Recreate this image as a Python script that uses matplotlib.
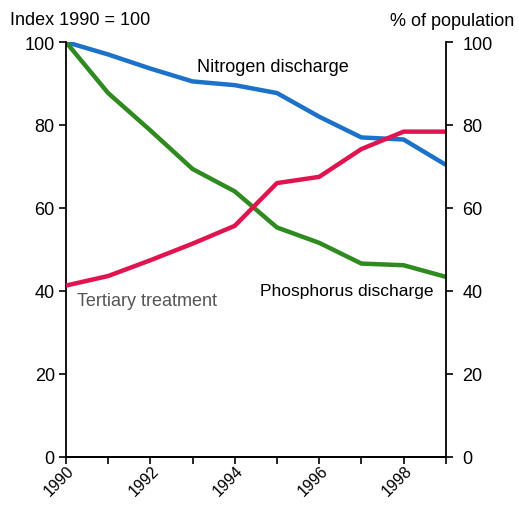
import matplotlib
matplotlib.use("Agg")
import matplotlib.pyplot as plt
from matplotlib.transforms import ScaledTranslation

plt.rcParams['font.family'] = ['Liberation Sans', 'DejaVu Sans']

years = [1990, 1991, 1992, 1993, 1994, 1995, 1996, 1997, 1998, 1999]
nitrogen = [100, 97, 93.6, 90.5, 89.6, 87.7, 82, 77, 76.5, 70.4]
phosphorus = [100, 87.7, 78.7, 69.4, 64, 55.3, 51.6, 46.6, 46.2, 43.4]
tertiary = [41.3, 43.6, 47.4, 51.4, 55.7, 66, 67.5, 74.2, 78.4, 78.4]

BLUE = "#1b72c8"
GREEN = "#2f8a1f"
RED = "#e0144f"
FS = 13

fig = plt.figure(figsize=(5.19, 5.06), dpi=100)
ax = fig.add_axes([0.127, 0.095, 0.732, 0.820])
ax2 = ax.twinx()

ax.plot(years, nitrogen, color=BLUE, lw=3.2, solid_capstyle="butt")
ax.plot(years, phosphorus, color=GREEN, lw=3.2, solid_capstyle="butt")
ax2.plot(years, tertiary, color=RED, lw=3.2, solid_capstyle="butt")

for a in (ax, ax2):
    a.set_xlim(1990, 1999)
    a.set_ylim(0, 100)
    a.set_yticks([0, 20, 40, 60, 80, 100])
    a.spines["top"].set_visible(False)
    for s in a.spines.values():
        s.set_linewidth(1.3)
    a.tick_params(axis="y", labelsize=FS, length=5, width=1.2, pad=3)

ax.spines["right"].set_visible(False)
ax2.spines["left"].set_visible(False)
ax2.tick_params(axis="y", pad=7)

ax.set_xticks(years)
ax.set_xticklabels([str(y) if y % 2 == 0 else "" for y in years],
                   rotation=45, ha="right", va="center", rotation_mode="anchor")
ax.tick_params(axis="x", labelsize=11.5, length=5, width=1.2, pad=3)
shift = ScaledTranslation(6 / 100, 0, fig.dpi_scale_trans)
for lbl in ax.get_xticklabels():
    lbl.set_transform(lbl.get_transform() + shift)

fig.text(0.02, 0.960, "Index 1990 = 100", fontsize=FS, va="center")
fig.text(0.99, 0.957, "% of population", fontsize=FS, va="center", ha="right")

ax.text(1993.1, 94.0, "Nitrogen discharge", fontsize=FS, va="center")
ax.text(1994.6, 40.0, "Phosphorus discharge", fontsize=12.5, va="center")
ax.text(1990.26, 37.7, "Tertiary treatment", fontsize=FS, va="center",
        color="#555555")

fig.savefig("out.png", dpi=100)
